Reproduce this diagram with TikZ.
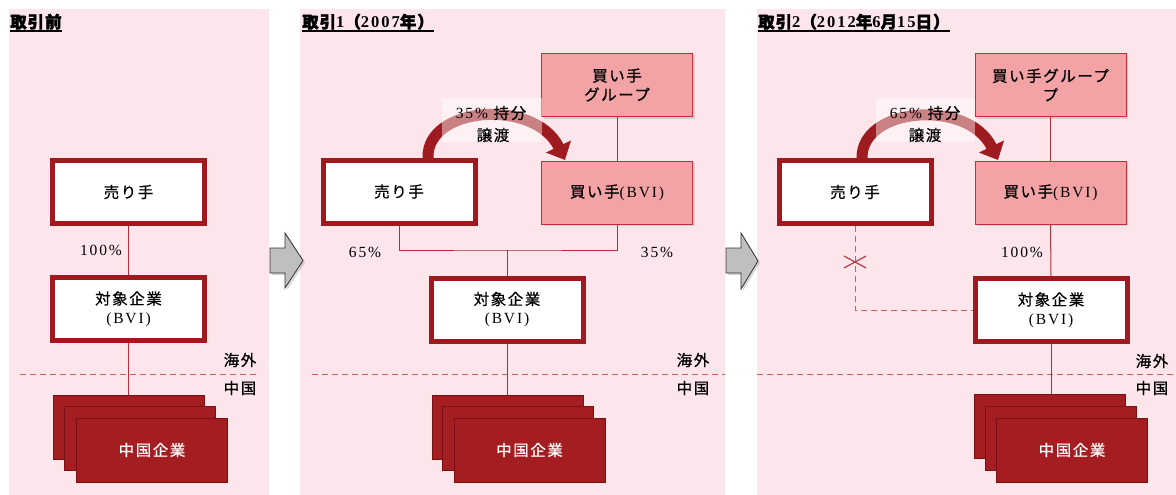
\documentclass[tikz,border=0pt]{standalone}
\usepackage{fontspec}
\setmainfont{Liberation Serif}[LetterSpace=12]
\newfontfamily\jp{Noto Sans CJK JP}[LetterSpace=10,FakeBold=0.6]
\newfontfamily\jpb{Noto Sans CJK JP}[LetterSpace=6,FakeBold=2]
\usetikzlibrary{arrows.meta,shadows}
\definecolor{bgp}{HTML}{FCE6EB}
\definecolor{dred}{HTML}{A0191E}
\definecolor{stk}{HTML}{A31D21}
\definecolor{stkedge}{HTML}{7A1014}
\definecolor{pfill}{HTML}{F3A3A5}
\definecolor{pedge}{HTML}{C0303A}
\definecolor{cline}{HTML}{B0303A}
\definecolor{dashc}{HTML}{D45A64}
\definecolor{ared}{HTML}{9E1B20}
\definecolor{garr}{HTML}{BFBFBF}
\begin{document}
\begin{tikzpicture}[x=1pt,y=-1pt,
  font=\fontsize{15.5}{19}\selectfont,
  panel/.style={fill=bgp},
  wbox/.style={draw=dred, line width=5pt, fill=white, minimum width=152pt, minimum height=63pt, inner sep=2pt, align=center},
  pbox/.style={draw=pedge, line width=1pt, fill=pfill, minimum width=151pt, minimum height=63pt, inner sep=2pt, align=center,
    drop shadow={shadow xshift=2pt, shadow yshift=-2pt, opacity=0.25}},
  stackbox/.style={fill=stk, draw=stkedge, line width=0.6pt, minimum width=151pt, minimum height=64pt, inner sep=0pt},
  cn/.style={draw=cline, line width=1pt},
  dl/.style={draw=dashc, line width=1pt, dash pattern=on 6pt off 4pt},
  lbl/.style={inner sep=0pt},
  title/.style={anchor=base west, inner sep=0pt, font=\fontsize{16.5}{19}\selectfont\bfseries},
  uline/.style={draw=black, line width=1.6pt},
  bigarr/.style={draw=ared, line width=11pt, -{Triangle[length=15pt,width=27pt]}},
  veil/.style={fill=white, opacity=0.45},
  blockarr/.style={fill=garr, draw=black!80, line width=0.8pt, drop shadow={shadow xshift=2pt, shadow yshift=-2pt, opacity=0.3}}
]
\useasboundingbox (0,0) rectangle (1176,495);
\fill[white] (0,0) rectangle (1176,495);
% panels
\path[panel] (9,9) rectangle (269,495);
\path[panel] (300,9) rectangle (725,495);
\path[panel] (757,9) rectangle (1176,495);

% block arrows
\path[blockarr] (270,248) -- (285,248) -- (285,233) -- (303,260.5) -- (285,288) -- (285,273) -- (270,273) -- cycle;
\path[blockarr] (726,248) -- (741,248) -- (741,233) -- (758,261) -- (741,289) -- (741,273) -- (726,273) -- cycle;

% titles
\node[title] (h1) at (10,28) {\jpb 取引前};
\draw[uline] ([yshift=-3pt]h1.base west) -- ([yshift=-3pt]h1.base east);
\node[title] (h2) at (302,28) {{\jpb 取引}1{\jpb （}2007{\jpb 年）}};
\draw[uline] ([yshift=-3pt]h2.base west) -- ([yshift=-3pt]h2.base east);
\node[title] (h3) at (758,28) {{\jpb 取引}2{\jpb （}2012{\jpb 年}6{\jpb 月}15{\jpb 日）}};
\draw[uline] ([yshift=-3pt]h3.base west) -- ([yshift=-3pt]h3.base east);

% dashed borders
\coordinate (d1a) at (20,374); \coordinate (d1b) at (258,374);
\coordinate (d2a) at (312,374); \coordinate (d2b) at (725,374);
\coordinate (d3a) at (757,374); \coordinate (d3b) at (1176,374);
\draw[dl] (d1a) -- (d1b);
\draw[dl] (d2a) -- (d2b);
\draw[dl] (d3a) -- (d3b);
\node[lbl] (o1) at (240,360) {\jp 海外};
\node[lbl] (n1) at (240,388) {\jp 中国};
\node[lbl] (o2) at (693,360) {\jp 海外};
\node[lbl] (n2) at (693,388) {\jp 中国};
\node[lbl] (o3) at (1152,361) {\jp 海外};
\node[lbl] (n3) at (1152,388) {\jp 中国};

% ---------- panel 1 ----------
\node[wbox] (s1) at (128.5,192) {\jp 売り手};
\node[wbox] (t1) at (128.5,309) {{\jp 対象企業}\\(BVI)};
\draw[cn] (s1.south) -- (t1.north);
\node[lbl] (p1) at (101,250) {100\%};
\node[stackbox] (c1a) at (129,427) {};
\node[stackbox] (c1b) at (139.5,438) {};
\node[stackbox, text=white] (c1c) at (152,450) {\jp 中国企業};
\draw[cn] (t1.south) -- (t1.south |- c1a.north);

% ---------- panel 2 ----------
\node[pbox] (g2) at (617,85) {\jp 買い手\\\jp グループ};
\node[pbox] (b2) at (617,192.5) {{\jp 買い手}(BVI)};
\node[wbox] (s2) at (399,191.5) {\jp 売り手};
\node[wbox] (t2) at (507,309.5) {{\jp 対象企業}\\(BVI)};
\draw[cn] (g2.south) -- (b2.north);
\coordinate (j2) at (507,250);
\draw[cn] (s2.south) |- (j2) -| (b2.south);
\draw[cn] (j2) -- (t2.north);
\node[lbl] (p2a) at (365,252) {65\%};
\node[lbl] (p2b) at (657,252) {35\%};
\coordinate (a2s) at (428,158);
\coordinate (a2e) at (565,160);
\draw[bigarr] (a2s) .. controls (426,106) and (535,98) .. (a2e);
\path[veil] (442,98) rectangle (542,142);
\node[lbl] (q2a) at (491,113) {35\% {\jp 持分}};
\node[lbl] (q2b) at (493,135) {\jp 譲渡};
\node[stackbox] (c2a) at (507.5,427) {};
\node[stackbox] (c2b) at (518,438) {};
\node[stackbox, text=white] (c2c) at (529.5,450) {\jp 中国企業};
\draw[cn] (t2.south) -- (t2.south |- c2a.north);

% ---------- panel 3 ----------
\node[pbox] (g3) at (1050.5,85) {\jp 買い手グループ\\\jp プ};
\node[pbox] (b3) at (1050.5,192.5) {{\jp 買い手}(BVI)};
\node[wbox] (s3) at (855,192) {\jp 売り手};
\node[wbox] (t3) at (1051,310) {{\jp 対象企業}\\(BVI)};
\draw[cn] (g3.south) -- (b3.north);
\draw[cn] (b3.south) -- (t3.north);
\node[lbl] (p3) at (1022,252) {100\%};
\draw[dl] (s3.south) |- (t3.west);
\coordinate (x3) at (855,262);
\draw[draw=dred!85, line width=1.2pt] ([xshift=-11pt,yshift=6pt]x3) -- ([xshift=11pt,yshift=-6pt]x3)
  ([xshift=-11pt,yshift=-6pt]x3) -- ([xshift=11pt,yshift=6pt]x3);
\coordinate (a3s) at (862,159);
\coordinate (a3e) at (998,160);
\draw[bigarr] (a3s) .. controls (860,107) and (968,98) .. (a3e);
\path[veil] (876,98) rectangle (975,142);
\node[lbl] (q3a) at (925,113) {65\% {\jp 持分}};
\node[lbl] (q3b) at (925,135) {\jp 譲渡};
\node[stackbox] (c3a) at (1049.5,426.5) {};
\node[stackbox] (c3b) at (1060.5,438) {};
\node[stackbox, text=white] (c3c) at (1072,450) {\jp 中国企業};
\draw[cn] (t3.south) -- (t3.south |- c3a.north);
\end{tikzpicture}
\end{document}
